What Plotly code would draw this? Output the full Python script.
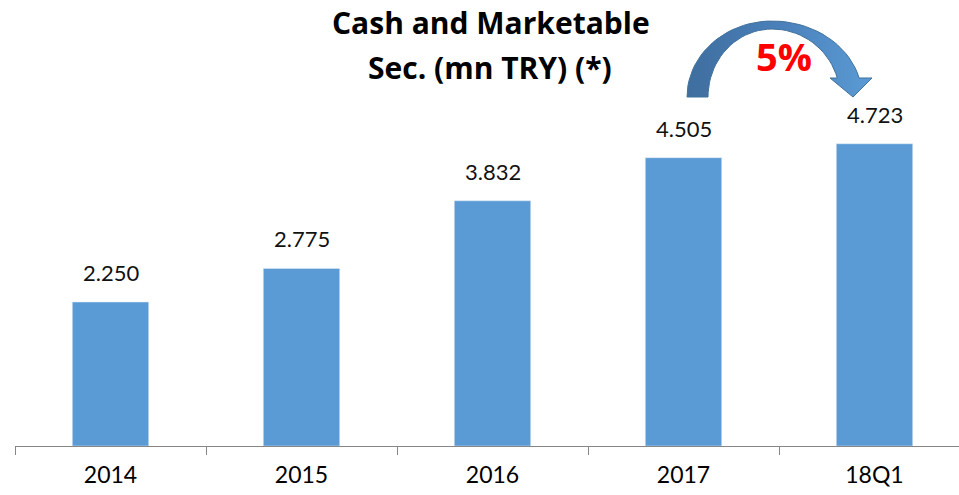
import math
import plotly.graph_objects as go

categories = ["2014", "2015", "2016", "2017", "18Q1"]
values = [2250, 2775, 3832, 4505, 4723]
value_labels = ["2.250", "2.775", "3.832", "4.505", "4.723"]
title_lines = ["Cash and Marketable", "Sec. (mn TRY) (*)"]
growth_label = "5%"

FONT = "Lato"
BOLD_FONT = "Open Sans"
BAR_COLOR = "#5B9BD5"

# layout geometry (pixels)
W, H = 959, 495
L, R, T, B = 15, 0, 0, 49
plot_w = W - L - R
plot_h = H - T - B
cat_px = 191
px_per_unit = 0.064

fig = go.Figure()
fig.add_trace(go.Bar(
    x=categories, y=values, marker_color=BAR_COLOR, width=0.4,
    hoverinfo="skip", showlegend=False,
))

# curved arrow (decoration) drawn on a pixel overlay axis
cx, cy = 772, 97
def arc(rx_l, rx_r, ry, th_from, th_to, n=40):
    xs, ys = [], []
    for k in range(n + 1):
        th = math.radians(th_from + (th_to - th_from) * k / n)
        rx = rx_l if math.cos(th) < 0 else rx_r
        xs.append(cx + rx * math.cos(th))
        ys.append(cy - ry * math.sin(th))
    return xs, ys

out_end = math.degrees(math.asin(19 / 76))
in_end = math.degrees(math.asin(19 / 68))
ox, oy = arc(85, 90, 76, 180, out_end)
ix, iy = arc(64, 68, 68, in_end, 180)
arrow_x = ox + [872, 853, 830] + ix + [ox[0]]
arrow_y = oy + [78, 97, 78] + iy + [oy[0]]
fig.add_trace(go.Scatter(
    x=arrow_x, y=arrow_y, xaxis="x2", yaxis="y2", mode="lines",
    line=dict(color="#41719C", width=1),
    fill="toself",
    fillgradient=dict(type="horizontal",
                      colorscale=[[0, "#3F6E9F"], [0.5, "#4A80BA"], [1, "#5B9BD5"]]),
    hoverinfo="skip", showlegend=False,
))

annotations = []
for i, (v, t) in enumerate(zip(values, value_labels)):
    annotations.append(dict(
        x=i, y=v, xref="x", yref="y", text=t, showarrow=False,
        yanchor="bottom", yshift=14, font=dict(family=FONT, size=22, color="#111111"),
    ))

def py_to_paper(py):
    return (H - B - py) / plot_h

def px_to_paper(px):
    return (px - L) / plot_w

annotations.append(dict(x=px_to_paper(491), y=py_to_paper(22), xref="paper", yref="paper",
                        text="<b>%s</b>" % title_lines[0], showarrow=False,
                        xanchor="center", yanchor="middle",
                        font=dict(family=BOLD_FONT, size=30, color="#000000")))
annotations.append(dict(x=px_to_paper(490), y=py_to_paper(67), xref="paper", yref="paper",
                        text="<b>%s</b>" % title_lines[1], showarrow=False,
                        xanchor="center", yanchor="middle",
                        font=dict(family=BOLD_FONT, size=30, color="#000000")))
annotations.append(dict(x=px_to_paper(784), y=py_to_paper(56), xref="paper", yref="paper",
                        text="<b>%s</b>" % growth_label, showarrow=False,
                        xanchor="center", yanchor="middle",
                        font=dict(family=BOLD_FONT, size=38, color="#FF0000")))

fig.update_layout(
    width=W, height=H,
    margin=dict(l=L, r=R, t=T, b=B, pad=0, autoexpand=False),
    paper_bgcolor="white", plot_bgcolor="white",
    showlegend=False,
    annotations=annotations,
    xaxis=dict(
        type="category", range=[-0.5, -0.5 + plot_w / cat_px],
        showline=True, linecolor="#868686", linewidth=1,
        ticks="outside", tickson="boundaries", ticklen=8, tickcolor="#868686",
        ticklabelstandoff=8,
        tickfont=dict(family=FONT, size=23, color="#000000"),
        showgrid=False, zeroline=False, fixedrange=True,
    ),
    yaxis=dict(range=[0, plot_h / px_per_unit], visible=False, showgrid=False,
               zeroline=False, fixedrange=True),
    xaxis2=dict(overlaying="x", anchor="y2", range=[L, W - R], visible=False, fixedrange=True),
    yaxis2=dict(overlaying="y", anchor="x2", range=[H - B, T], visible=False, fixedrange=True),
)

fig.write_html("out.html", config={"displayModeBar": False},
               post_script="document.body.style.margin='0';document.body.style.overflow='hidden';")
